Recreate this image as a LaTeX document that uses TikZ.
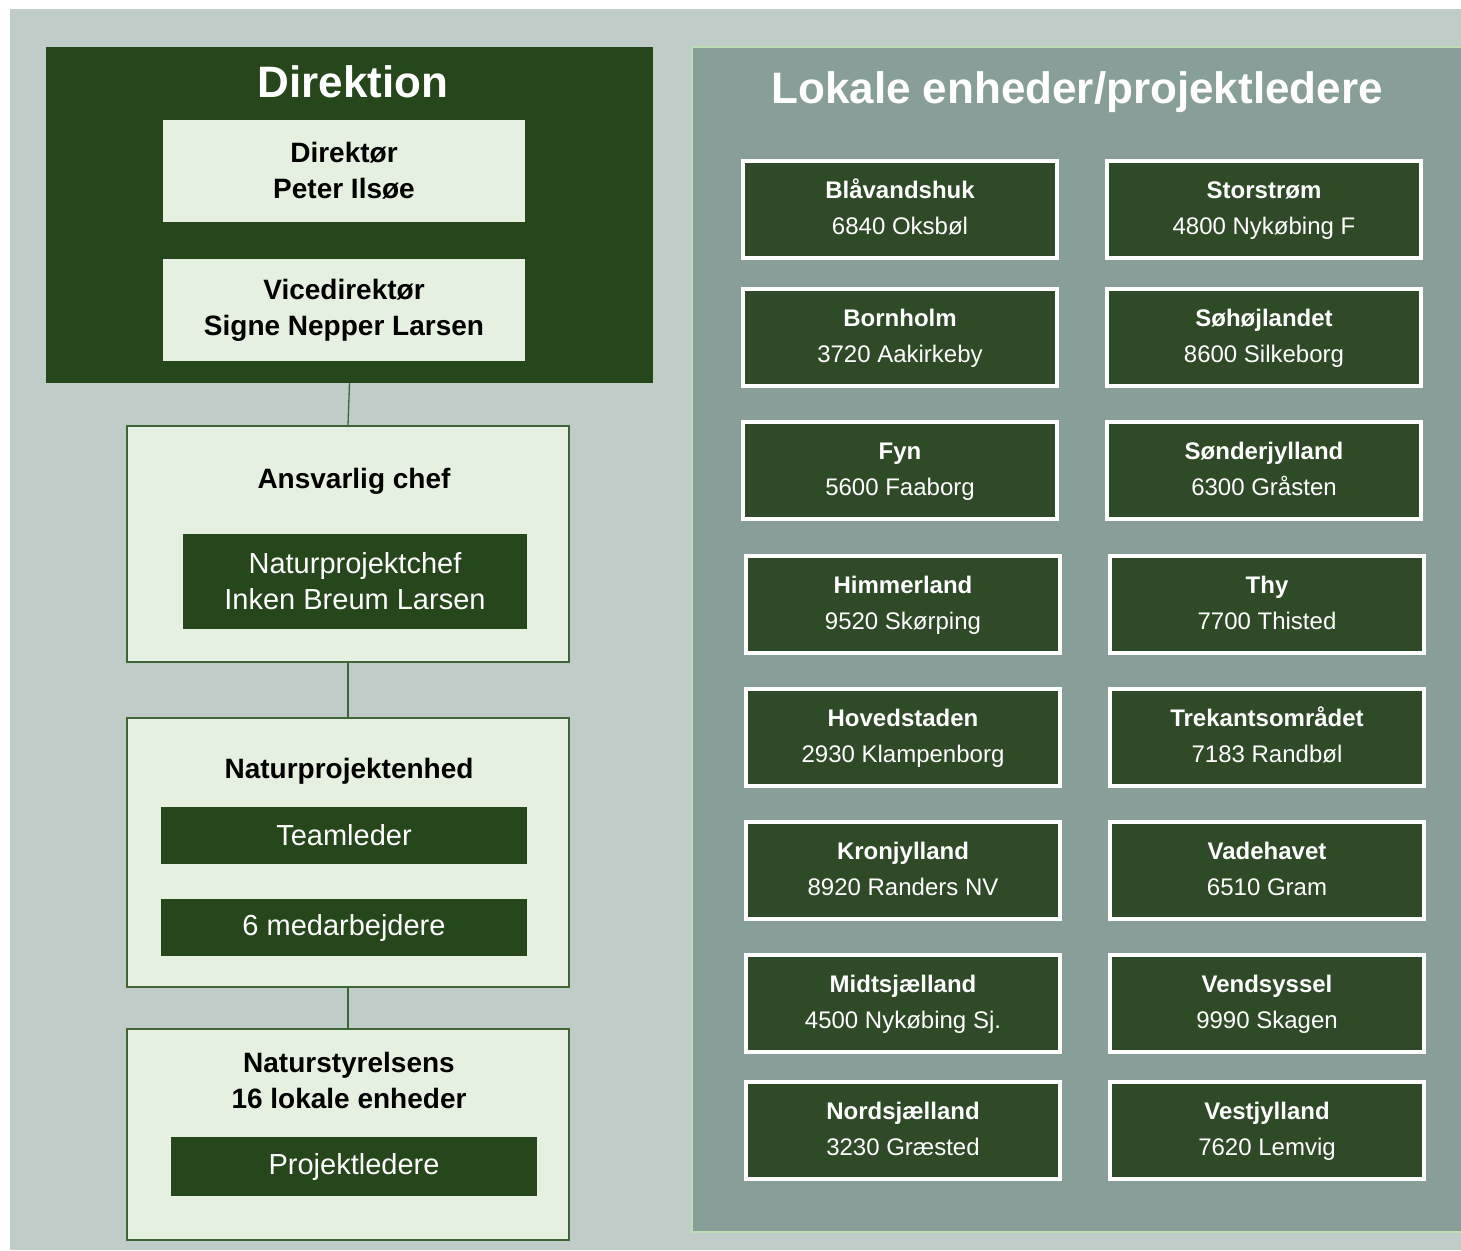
\documentclass[tikz,border=0pt]{standalone}
\usepackage{fontspec}
\setmainfont{Liberation Sans}
\usepackage{tikz}

\definecolor{bggrey}{HTML}{BFCCC8}
\definecolor{panelgrey}{HTML}{879E99}
\definecolor{panelrim}{HTML}{BEDDB3}
\definecolor{dirgreen}{HTML}{26461B}
\definecolor{palegreen}{HTML}{E5F0E0}
\definecolor{rimgreen}{HTML}{3F6536}
\definecolor{unitgreen}{HTML}{2F4A27}

\newcommand{\unitlines}[2]{\strut\textbf{#1}\\\strut #2}

\tikzset{
  darkbox/.style={rectangle, fill=dirgreen, text=white, inner sep=0pt, align=center},
  palebox/.style={rectangle, fill=palegreen, inner sep=0pt, align=center},
  chartbox/.style={palebox, draw=rimgreen, line width=1.3pt, minimum width=442pt},
  headtext/.style={font=\bfseries\fontsize{28}{36}\selectfont, align=center},
  unitbox/.style={rectangle, fill=unitgreen, draw=white, line width=4pt, text=white,
    align=center, inner sep=0pt, minimum width=314pt, minimum height=97pt,
    font=\fontsize{24}{36}\selectfont},
  link/.style={draw=rimgreen, line width=1.3pt}
}

\begin{document}
\begin{tikzpicture}[x=1pt,y=-1pt]
\useasboundingbox (0,0) rectangle (1461,1250);
\fill[bggrey] (10,9) rectangle (1461,1250);

\node[darkbox, minimum width=607pt, minimum height=336pt] (direk) at (349.5,215) {};
\node[text=white, font=\bfseries\fontsize{44}{50}\selectfont] (direktitle) at (353,82) {Direktion};
\node[palebox, headtext, minimum width=362pt, minimum height=102pt] (direktor) at (344,171) {Direktør\\Peter Ilsøe};
\node[palebox, headtext, minimum width=362pt, minimum height=102pt] (vice) at (344,310) {Vicedirektør\\Signe Nepper Larsen};

\node[chartbox, minimum height=236pt] (ansv) at (348,544) {};
\node[headtext] (ansvtitle) at (354,481) {Ansvarlig chef};
\node[darkbox, minimum width=344pt, minimum height=95pt, font=\fontsize{29}{36}\selectfont] (npchef) at (355,581.5) {Naturprojektchef\\Inken Breum Larsen};

\node[chartbox, minimum height=269pt] (npenhed) at (348,852.5) {};
\node[headtext] (npenhedtitle) at (349,771) {Naturprojektenhed};
\node[darkbox, minimum width=366pt, minimum height=57pt, font=\fontsize{29}{36}\selectfont] (team) at (344,835.5) {Teamleder};
\node[darkbox, minimum width=366pt, minimum height=57pt, font=\fontsize{29}{36}\selectfont] (medarb) at (344,927.5) {6 medarbejdere};

\node[chartbox, minimum height=211pt] (nst) at (348,1134.5) {};
\node[headtext] (nsttitle) at (349,1080) {Naturstyrelsens\\16 lokale enheder};
\node[darkbox, minimum width=366pt, minimum height=59pt, font=\fontsize{29}{36}\selectfont] (projl) at (354,1166.5) {Projektledere};

\draw[link] (direk.south) -- (ansv.north);
\draw[link] (ansv.south) -- (npenhed.north);
\draw[link] (npenhed.south) -- (nst.north);

\draw[fill=panelgrey, draw=panelrim, line width=1.3pt] (692,47) rectangle (1466,1232);
\node[text=white, font=\bfseries\fontsize{44}{50}\selectfont] (lokaltitle) at (1077,92) {Lokale enheder/projektledere};

\node[unitbox] (blaa) at (900,209.5) {\unitlines{Blåvandshuk}{6840 Oksbøl}};
\node[unitbox] (storst) at (1264,209.5) {\unitlines{Storstrøm}{4800 Nykøbing F}};
\node[unitbox] (born) at (900,337.5) {\unitlines{Bornholm}{3720 Aakirkeby}};
\node[unitbox] (soehoej) at (1264,337.5) {\unitlines{Søhøjlandet}{8600 Silkeborg}};
\node[unitbox] (fyn) at (900,470.5) {\unitlines{Fyn}{5600 Faaborg}};
\node[unitbox] (soenderj) at (1264,470.5) {\unitlines{Sønderjylland}{6300 Gråsten}};
\node[unitbox] (himmer) at (903,604.5) {\unitlines{Himmerland}{9520 Skørping}};
\node[unitbox] (thy) at (1267,604.5) {\unitlines{Thy}{7700 Thisted}};
\node[unitbox] (hovedst) at (903,737.5) {\unitlines{Hovedstaden}{2930 Klampenborg}};
\node[unitbox] (trekant) at (1267,737.5) {\unitlines{Trekantsområdet}{7183 Randbøl}};
\node[unitbox] (kronj) at (903,870.5) {\unitlines{Kronjylland}{8920 Randers NV}};
\node[unitbox] (vadeh) at (1267,870.5) {\unitlines{Vadehavet}{6510 Gram}};
\node[unitbox] (midtsj) at (903,1003) {\unitlines{Midtsjælland}{4500 Nykøbing Sj.}};
\node[unitbox] (vendsy) at (1267,1003) {\unitlines{Vendsyssel}{9990 Skagen}};
\node[unitbox] (nordsj) at (903,1130.5) {\unitlines{Nordsjælland}{3230 Græsted}};
\node[unitbox] (vestj) at (1267,1130.5) {\unitlines{Vestjylland}{7620 Lemvig}};

\end{tikzpicture}
\end{document}
